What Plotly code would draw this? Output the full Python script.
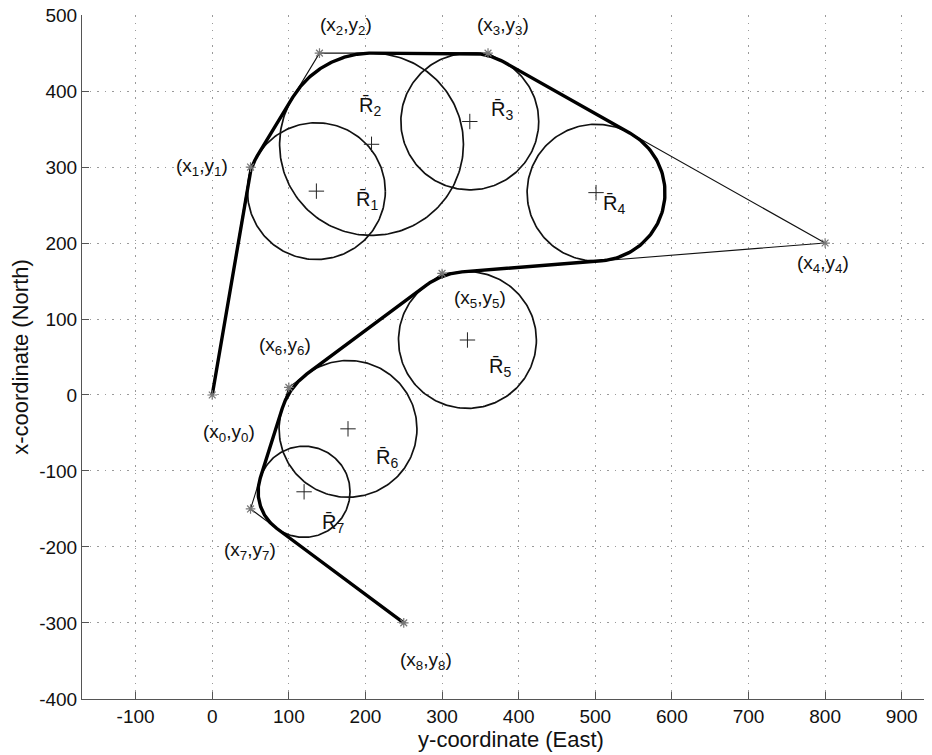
import numpy as np
import plotly.graph_objects as go

# ---- data ----
# waypoints: horizontal = East (y-coordinate), vertical = North (x-coordinate)
wp_east = [0, 50, 140, 360, 800, 300, 100, 50, 250]
wp_north = [0, 300, 450, 450, 200, 160, 10, -150, -300]
wp_labels = [f"(x<sub>{i}</sub>,y<sub>{i}</sub>)" for i in range(9)]

# radii of the turning circles R1..R7 (one per interior waypoint)
radii = [90, 120, 90, 90, 90, 90, 60]
r_labels = [f"R\u0304<sub>{i}</sub>" for i in range(1, 8)]

x_ticks = [-100, 0, 100, 200, 300, 400, 500, 600, 700, 800, 900]
y_ticks = [-400, -300, -200, -100, 0, 100, 200, 300, 400, 500]

# label placement (offsets in data units)
wp_label_off = [(22, -50), (-64, 0), (34, 36), (20, 36), (-3, -27),
                (50, -33), (-5, 55), (-1, -55), (29, -50)]
r_label_off = [(66, -12), (-2, 50), (42, 14), (24, -16), (43, -36),
               (51, -39), (38, -42)]

FONT = "Liberation Sans, Arial, Helvetica, sans-serif"

# ---- geometry: filleted path ----
P = np.column_stack([wp_east, wp_north]).astype(float)
path_x, path_y = [P[0, 0]], [P[0, 1]]
centers = []
for k in range(1, len(P) - 1):
    r = radii[k - 1]
    u1 = P[k] - P[k - 1]; u1 /= np.linalg.norm(u1)
    u2 = P[k + 1] - P[k]; u2 /= np.linalg.norm(u2)
    theta = np.arctan2(u1[0] * u2[1] - u1[1] * u2[0], np.dot(u1, u2))
    t = r * np.tan(abs(theta) / 2)
    T1 = P[k] - u1 * t
    nleft = np.array([-u1[1], u1[0]])
    C = T1 + np.sign(theta) * r * nleft
    centers.append(C)
    a1 = np.arctan2(T1[1] - C[1], T1[0] - C[0])
    s = np.linspace(0, 1, 80)
    ang = a1 + s * theta
    path_x += list(C[0] + r * np.cos(ang))
    path_y += list(C[1] + r * np.sin(ang))
path_x.append(P[-1, 0]); path_y.append(P[-1, 1])

fig = go.Figure()

# thin polyline through the waypoints
fig.add_trace(go.Scatter(x=wp_east, y=wp_north, mode="lines",
                         line=dict(color="#111", width=1.1), hoverinfo="skip"))

# circles
phi = np.linspace(0, 2 * np.pi, 240)
for C, r in zip(centers, radii):
    fig.add_trace(go.Scatter(x=C[0] + r * np.cos(phi), y=C[1] + r * np.sin(phi),
                             mode="lines", line=dict(color="#111", width=1.7),
                             hoverinfo="skip"))

# thick trajectory
fig.add_trace(go.Scatter(x=path_x, y=path_y, mode="lines",
                         line=dict(color="#000", width=3.4), hoverinfo="skip"))

# circle centres
cx = [c[0] for c in centers]; cy = [c[1] for c in centers]
fig.add_trace(go.Scatter(x=cx, y=cy, mode="markers",
                         marker=dict(symbol="cross-thin-open", size=11, color="#222",
                                     line=dict(color="#222", width=1)),
                         hoverinfo="skip"))

# waypoint markers
fig.add_trace(go.Scatter(x=wp_east, y=wp_north, mode="markers",
                         marker=dict(symbol="asterisk-open", size=8, color="#777",
                                     line=dict(color="#777", width=1.2)),
                         hoverinfo="skip"))

ann = []
for xe, yn, lab, (dx, dy) in zip(wp_east, wp_north, wp_labels, wp_label_off):
    ann.append(dict(x=xe + dx, y=yn + dy, text=lab, showarrow=False,
                    xanchor="center", yanchor="middle",
                    font=dict(family=FONT, size=19, color="#111")))
for C, lab, (dx, dy) in zip(centers, r_labels, r_label_off):
    ann.append(dict(x=C[0] + dx, y=C[1] + dy, text=lab, showarrow=False,
                    xanchor="center", yanchor="middle",
                    font=dict(family=FONT, size=20, color="#111")))

axis_common = dict(showgrid=True, gridcolor="#9a9a9a", griddash="1.5px,6px", gridwidth=1,
                   zeroline=False, showline=True, linecolor="#555", linewidth=1,
                   ticks="inside", ticklen=7, tickcolor="#555",
                   ticklabeloverflow="allow",
                   tickfont=dict(family=FONT, size=19, color="#111"))

fig.update_layout(
    width=932, height=755,
    margin=dict(l=74, r=0, t=7, b=64),
    plot_bgcolor="white", paper_bgcolor="white",
    showlegend=False,
    font=dict(family=FONT, color="#111"),
    annotations=ann,
    xaxis=dict(range=[-170, 950], tickvals=x_ticks, ticktext=[str(v) for v in x_ticks],
               title=dict(text="y-coordinate (East)", font=dict(family=FONT, size=22), standoff=4),
               automargin=False, **axis_common),
    yaxis=dict(range=[-400.2, 500.2], tickvals=y_ticks, ticktext=[str(v) for v in y_ticks],
               title=dict(text="x-coordinate (North)", font=dict(family=FONT, size=22), standoff=8),
               automargin=False, **axis_common),
)

fig.write_html("out.html")
